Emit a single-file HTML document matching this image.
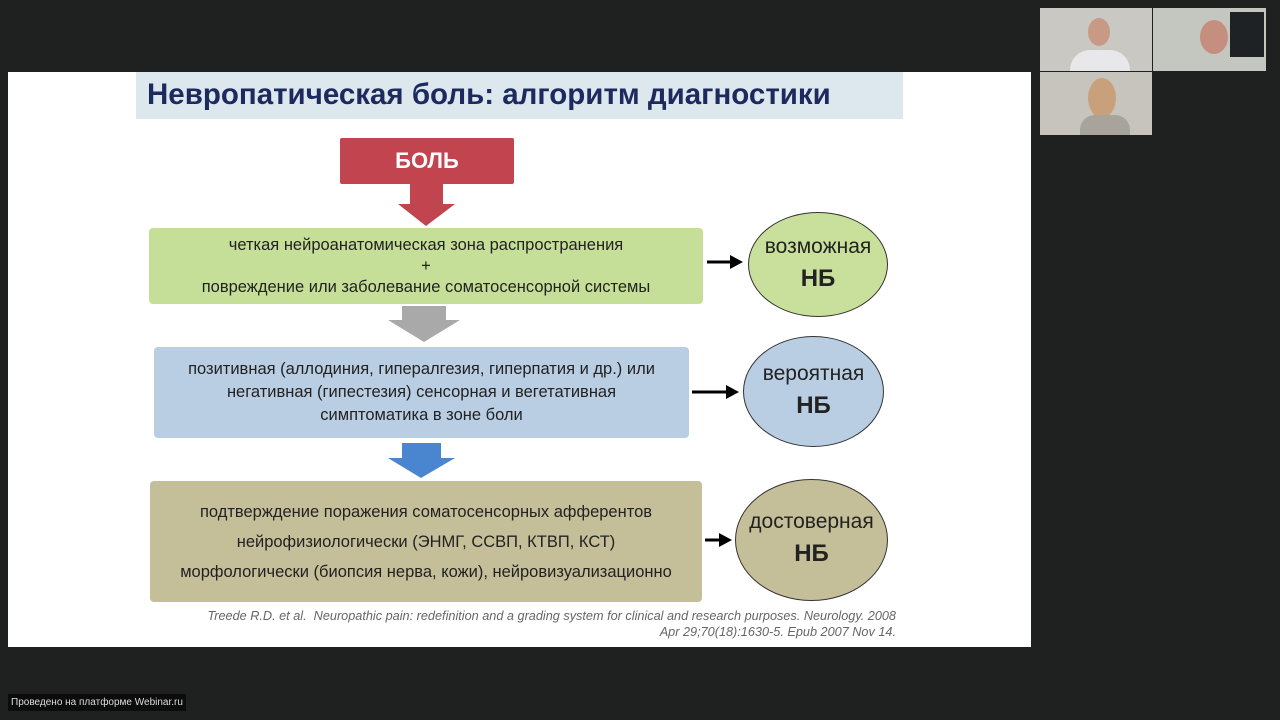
<!DOCTYPE html>
<html><head><meta charset="utf-8"><style>
*{margin:0;padding:0;box-sizing:border-box}
body{width:1280px;height:720px;background:#1f2020;position:relative;overflow:hidden;font-family:"Liberation Sans","DejaVu Sans",sans-serif}
.a{position:absolute}
.box{position:absolute;display:flex;flex-direction:column;justify-content:center;align-items:center;text-align:center;color:#222;font-size:16.5px;border-radius:4px;white-space:nowrap}
.circ{position:absolute;border-radius:50%;border:1.5px solid #333;display:flex;flex-direction:column;justify-content:center;align-items:center;color:#222}
.circ .t{font-size:21px;line-height:28px}
.circ .b{font-size:24px;font-weight:bold;line-height:36px}
</style></head><body>
<div class="a" style="left:8px;top:72px;width:1023px;height:575px;background:#fff"></div>
<div class="a" style="left:136px;top:72px;width:767px;height:47px;background:#dde7ee"></div>
<div class="a" style="left:147px;top:78px;font-size:29.5px;font-weight:bold;color:#1d2a5e;white-space:nowrap">Невропатическая боль: алгоритм диагностики</div>

<div class="box" style="left:340px;top:138px;width:174px;height:46px;background:#c1444e;color:#fff;font-weight:bold;font-size:22px;border-radius:2px">БОЛЬ</div>
<svg class="a" style="left:0;top:0" width="1280" height="720">
<polygon points="410,184 443,184 443,204 455,204 426,226 398,204 410,204" fill="#c1444e"/>
<polygon points="402,306 446,306 446,320 460,320 424,342 388,320 402,320" fill="#a9a9a9"/>
<polygon points="402,443 441,443 441,458 455,458 421,478 388,458 402,458" fill="#4a86d0"/>
<g stroke="#000" stroke-width="3" fill="none">
<line x1="707" y1="262" x2="734" y2="262"/>
<line x1="692" y1="392" x2="730" y2="392"/>
<line x1="705" y1="540" x2="723" y2="540"/>
</g>
<g fill="#000">
<polygon points="730,255 743,262 730,269"/>
<polygon points="726,385 739,392 726,399"/>
<polygon points="719,533 732,540 719,547"/>
</g>
</svg>

<div class="box" style="left:149px;top:228px;width:554px;height:76px;background:#c6df98;line-height:21px">
<div>четкая нейроанатомическая зона распространения</div><div>+</div><div>повреждение или заболевание соматосенсорной системы</div></div>
<div class="circ" style="left:748px;top:212px;width:140px;height:105px;background:#c8e09b"><div class="t">возможная</div><div class="b">НБ</div></div>

<div class="box" style="left:154px;top:347px;width:535px;height:91px;background:#b9cde3;line-height:23px">
<div>позитивная (аллодиния, гипералгезия, гиперпатия и др.) или</div><div>негативная (гипестезия) сенсорная и вегетативная</div><div>симптоматика в зоне боли</div></div>
<div class="circ" style="left:743px;top:336px;width:141px;height:111px;background:#b9cde3"><div class="t">вероятная</div><div class="b">НБ</div></div>

<div class="box" style="left:150px;top:481px;width:552px;height:121px;background:#c4bf98;line-height:30px">
<div>подтверждение поражения соматосенсорных афферентов</div><div>нейрофизиологически (ЭНМГ, ССВП, КТВП, КСТ)</div><div>морфологически (биопсия нерва, кожи), нейровизуализационно</div></div>
<div class="circ" style="left:735px;top:479px;width:153px;height:122px;background:#c4bf98"><div class="t">достоверная</div><div class="b">НБ</div></div>

<div class="a" style="left:100px;top:608px;width:796px;text-align:right;font-size:12.7px;font-style:italic;color:#666;line-height:16px;white-space:nowrap">Treede R.D. et al.&nbsp; Neuropathic pain: redefinition and a grading system for clinical and research purposes. Neurology. 2008<br>Apr 29;70(18):1630-5. Epub 2007 Nov 14.</div>

<div class="a" style="left:1040px;top:8px;width:112px;height:63px;background:#c9c8c2"></div>
<div class="a" style="left:1070px;top:50px;width:60px;height:21px;background:#e8e8ea;border-radius:20px 20px 0 0"></div>
<div class="a" style="left:1088px;top:18px;width:22px;height:28px;background:#c89a86;border-radius:50%"></div>
<div class="a" style="left:1153px;top:8px;width:113px;height:63px;background:#c4c6c0"></div>
<div class="a" style="left:1230px;top:12px;width:34px;height:45px;background:#1e2224"></div>
<div class="a" style="left:1200px;top:20px;width:28px;height:34px;background:#c58f80;border-radius:50%"></div>
<div class="a" style="left:1040px;top:72px;width:112px;height:63px;background:#c7c4bd"></div>
<div class="a" style="left:1088px;top:78px;width:28px;height:40px;background:#c9a07c;border-radius:50%"></div>
<div class="a" style="left:1080px;top:115px;width:50px;height:20px;background:#a8a49c;border-radius:15px 15px 0 0"></div>

<div class="a" style="left:8px;top:694px;width:178px;height:17px;background:#0c0c0c;color:#ddd;font-size:10px;line-height:17px;text-align:center">Проведено на платформе Webinar.ru</div>
</body></html>
